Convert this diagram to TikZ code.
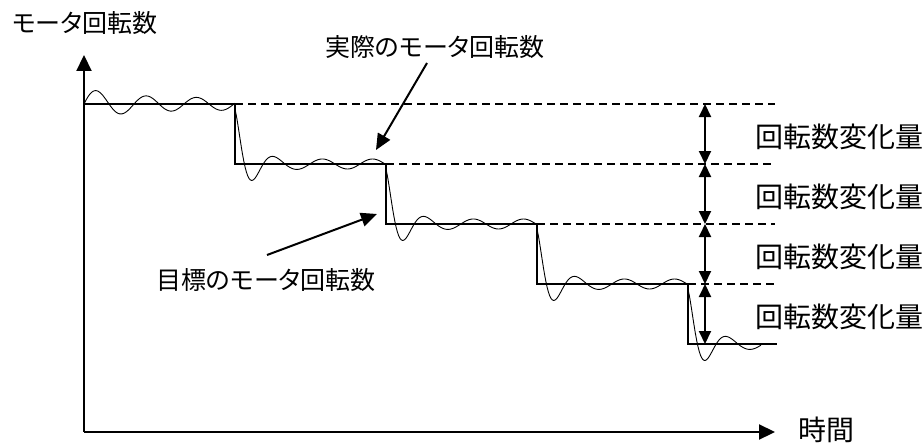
\documentclass[tikz,border=0pt]{standalone}
\usepackage{fontspec}
\newfontfamily\jpfont{Noto Sans CJK JP}[RawFeature=+palt]
\usetikzlibrary{arrows.meta}

\begin{document}
\begin{tikzpicture}[x=1pt, y=-1pt,
		axis/.style={line width=2.2pt, -{Triangle[length=16pt,width=15pt]}},
		target/.style={line width=2pt},
		actual/.style={line width=0.9pt},
		guide/.style={line width=1.5pt, dash pattern=on 8pt off 5pt},
		delta/.style={line width=2pt, {Triangle[length=13pt,width=12pt]}-{Triangle[length=13pt,width=12pt]}},
		pointer/.style={line width=2pt, -{Triangle[length=16pt,width=14pt]}},
		label/.style={font=\jpfont\fontsize{28}{30}\selectfont, inner sep=0pt},
		mixed/.style={font=\jpfont\fontsize{25}{28}\selectfont, inner sep=0pt}]
		\useasboundingbox (0,0) rectangle (924,444);
		\coordinate (origin) at (84,432);
		\coordinate (ytip) at (84,55);
		\coordinate (xtip) at (775,432);
		\draw[axis] (origin) -- (ytip);
		\draw[axis] (origin) -- (xtip);
		\node[mixed, anchor=west] (ylabel) at (12,23) {モータ回転数};
		\node[label, anchor=west] (xlabel) at (798,430) {時間};
		\draw[target] (84,104) -- (235,104) -- (235,164) -- (386,164) -- (386,224)
			-- (537,224) -- (537,284) -- (688,284) -- (688,344) -- (777,344);
		\foreach \s/\l/\n in {235/104/0,386/164/1,537/224/2,688/284/3}
			{
				\draw[guide] (\s,\l) -- (775,\l);
				\draw[delta] (705,\l) -- (705,\l+60);
				\node[label, anchor=west] (delta\n) at (755,\l+33) {回転数変化量};
			}
		\draw[actual] plot[domain=0:151, samples=120]
			({84+\x}, {104 - (6+10*exp(-\x/40))*sin(7.2*\x)});
		\foreach \s/\l in {235/164,386/224,537/284}
			{
				\draw[actual] plot[domain=0:151, samples=120]
				({\s+\x}, {\l - 55*exp(-\x/13)*cos(9*\x) - 5*(1-exp(-\x/12))*sin(7.2*(\x-25))});
			}
		\draw[actual] plot[domain=0:73, samples=60]
			({688+\x}, {344 - 55*exp(-\x/13)*cos(9*\x) - 5*(1-exp(-\x/12))*sin(7.2*(\x-25))});
		\node[mixed] (actuallabel) at (435,47) {実際のモータ回転数};
		\node[mixed] (targetlabel) at (266,280) {目標のモータ回転数};
		\coordinate (actualtip) at (376,150);
		\coordinate (targettip) at (377,214);
		\draw[pointer] ([shift={(-8,16)}]actuallabel.center) -- (actualtip);
		\draw[pointer] ([shift={(1,-25)}]targetlabel.center) -- (targettip);
	\end{tikzpicture}
\end{document}
